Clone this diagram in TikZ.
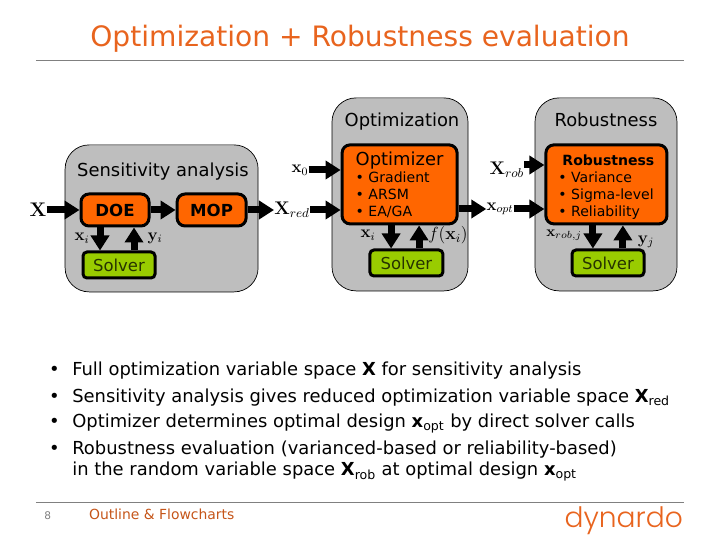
\documentclass[tikz,border=0pt]{standalone}
\usepackage{fix-cm}
\usepackage[no-math]{fontspec}
\setmainfont{DejaVu Sans}
\newfontfamily\logofont{Poppins Light}
\usetikzlibrary{arrows.meta}

\definecolor{dynorange}{HTML}{E8641E}
\definecolor{boxgray}{HTML}{BEBEBE}
\definecolor{procorange}{HTML}{FF6600}
\definecolor{solvergreen}{HTML}{99CC00}
\definecolor{footline}{HTML}{808080}

\tikzset{
  panel/.style={draw=black,line width=0.5pt,fill=boxgray,rounded corners=0.6cm},
  proc/.style={draw=black,line width=0.075cm,fill=procorange,rounded corners=0.2cm,inner sep=0pt},
  solverbox/.style={draw=black,line width=0.075cm,fill=solvergreen,rounded corners=0.1cm,
    minimum height=0.65cm,inner sep=0pt,text=black!75!solvergreen,font=\fontsize{11.7}{13}\selectfont},
  bigarrow/.style={-{Triangle[length=0.375cm,width=0.45cm]},line width=0.175cm},
  symb/.style={inner sep=0pt,font=\fontsize{12}{14}\selectfont},
  heading/.style={font=\fontsize{12.75}{15}\selectfont},
  listitem/.style={anchor=base west,inner sep=0pt,font=\fontsize{12.75}{15}\selectfont},
}

\begin{document}
\begin{tikzpicture}[scale=1]

\useasboundingbox (0,0) rectangle (18,13.5);

\node[text=dynorange,font=\fontsize{20}{24}\selectfont]
(title)
at (9,12.52)
{Optimization + Robustness evaluation};

\coordinate (TL) at (0.9,12);
\coordinate (TR) at (17.1,12);
\draw[footline] (TL) -- (TR);

\node[panel,minimum width=4.825cm,minimum height=3.675cm]
(Sens)
at (4.04,8.04)
{};

\node[panel,minimum width=3.4cm,minimum height=4.825cm]
(OptPanel)
at (10,8.64)
{};

\node[panel,minimum width=3.55cm,minimum height=4.825cm]
(RobPanel)
at (15.15,8.64)
{};

\node[heading]
(SensTitle)
at (4.075,9.2)
{Sensitivity analysis};

\node[heading]
(OptTitle)
at (10.05,10.45)
{Optimization};

\node[heading]
(RobTitle)
at (15.15,10.5)
{Robustness};

\node[proc,minimum width=1.7cm,minimum height=0.8cm,font=\fontsize{11.8}{14}\selectfont\bfseries]
(DOE)
at (2.875,8.25)
{DOE};

\node[proc,minimum width=1.725cm,minimum height=0.8cm,font=\fontsize{11.8}{14}\selectfont\bfseries]
(MOP)
at (5.29,8.25)
{MOP};

\node[solverbox,minimum width=1.8cm]
(SolverA)
at (2.975,6.875)
{Solver};

\node[proc,minimum width=2.875cm,minimum height=1.975cm,align=left,font=\fontsize{10}{12.1}\selectfont]
(Opt)
at (9.99,8.89)
{{\fontsize{12.75}{14}\selectfont Optimizer}\\
• Gradient\\
• ARSM\\
• EA/GA};

\node[solverbox,minimum width=1.825cm]
(SolverB)
at (10.16,6.925)
{Solver};

\node[proc,minimum width=3.025cm,minimum height=1.975cm,align=left,font=\fontsize{10}{12.1}\selectfont]
(Rob)
at (15.16,8.89)
{{\fontsize{10}{12.1}\selectfont\bfseries\hspace{0.1cm}\rule{0pt}{0.385cm}Robustness}\\
• Variance\\
• Sigma-level\\
• Reliability};

\node[solverbox,minimum width=1.8cm]
(SolverC)
at (15.2,6.925)
{Solver};

\node[symb,font=\fontsize{14}{16}\selectfont]
(X)
at (0.95,8.25)
{$\mathbf{X}$};

\node[symb]
(x0)
at (7.5,9.25)
{$\mathbf{x}_0$};

\node[symb,font=\fontsize{13}{15}\selectfont]
(Xred)
at (7.3,8.25)
{$\mathbf{X}_{red}$};

\node[symb]
(xopt)
at (12.5,8.275)
{$\mathbf{x}_{opt}$};

\node[symb,font=\fontsize{13}{15}\selectfont]
(Xrob)
at (12.67,9.25)
{$\mathbf{X}_{rob}$};

\node[symb]
(xiA)
at (2.05,7.55)
{$\mathbf{x}_i$};

\node[symb]
(yiA)
at (3.875,7.55)
{$\mathbf{y}_i$};

\node[symb]
(xiB)
at (9.2,7.625)
{$\mathbf{x}_i$};

\node[symb,font=\fontsize{12.5}{15}\selectfont]
(fxi)
at (11.2,7.625)
{$f(\mathbf{x}_i)$};

\node[symb,font=\fontsize{10.5}{13}\selectfont]
(xrobj)
at (14.1,7.625)
{$\mathbf{x}_{rob,j}$};

\node[symb]
(yj)
at (16.15,7.45)
{$\mathbf{y}_j$};

\draw[bigarrow] (X) -- (DOE);
\draw[bigarrow] (DOE) -- (MOP);
\draw[bigarrow] (MOP) -- (Xred);
\draw[bigarrow] (x0.east) -- (x0.east -| Opt.west);
\draw[bigarrow] (Xred.east) -- (Xred.east -| Opt.west);
\draw[bigarrow] (Opt.east |- xopt.west) -- (xopt.west);
\draw[bigarrow] ([yshift=0.125cm]Xrob.east) -- ([yshift=0.125cm]Xrob.east -| Rob.west);
\draw[bigarrow] (xopt.east) -- (xopt.east -| Rob.west);

\draw[bigarrow] ([xshift=-0.375cm]DOE.south) -- ([xshift=-0.375cm]DOE.south |- SolverA.north);
\draw[bigarrow] ([xshift=0.475cm]DOE.south |- SolverA.north) -- ([xshift=0.475cm]DOE.south);
\draw[bigarrow] ([xshift=-0.2125cm]Opt.south) -- ([xshift=-0.2125cm]Opt.south |- SolverB.north);
\draw[bigarrow] ([xshift=0.4875cm]Opt.south |- SolverB.north) -- ([xshift=0.4875cm]Opt.south);
\draw[bigarrow] ([xshift=-0.3375cm]Rob.south) -- ([xshift=-0.3375cm]Rob.south |- SolverC.north);
\draw[bigarrow] ([xshift=0.4125cm]Rob.south |- SolverC.north) -- ([xshift=0.4125cm]Rob.south);

% list under the diagram
\node[listitem] (dotA) at (1.22,4.1) {•};
\node[listitem] (dotB) at (1.22,3.45) {•};
\node[listitem] (dotC) at (1.22,2.8) {•};
\node[listitem] (dotD) at (1.22,2.15) {•};

\node[listitem]
(lineA)
at (1.8,4.1)
{Full optimization variable space \textbf{X} for sensitivity analysis};

\node[listitem]
(lineB)
at (1.8,3.45)
{Sensitivity analysis gives reduced optimization variable space \textbf{X}\textsubscript{red}};

\node[listitem]
(lineC)
at (1.8,2.8)
{Optimizer determines optimal design \textbf{x}\textsubscript{opt} by direct solver calls};

\node[listitem]
(lineD)
at (1.8,2.15)
{Robustness evaluation (varianced-based or reliability-based)};

\node[listitem]
(lineE)
at (1.8,1.6)
{in the random variable space \textbf{X}\textsubscript{rob} at optimal design \textbf{x}\textsubscript{opt}};

\coordinate (BL) at (0.9,0.95);
\coordinate (BR) at (17.1,0.95);
\draw[footline] (BL) -- (BR);

\node[anchor=base west,inner sep=0pt,text=footline,font=\fontsize{7.5}{9}\selectfont]
(page)
at (1.1,0.52)
{8};

\node[anchor=base west,inner sep=0pt,text=dynorange!85!black,font=\fontsize{9.9}{11}\selectfont]
(footer)
at (2.22,0.52)
{Outline \& Flowcharts};

\node[anchor=base east,inner sep=0pt,text=dynorange,font=\fontsize{20}{24}\logofont]
(logo)
at (17.08,0.32)
{dynardo};

\end{tikzpicture}
\end{document}
